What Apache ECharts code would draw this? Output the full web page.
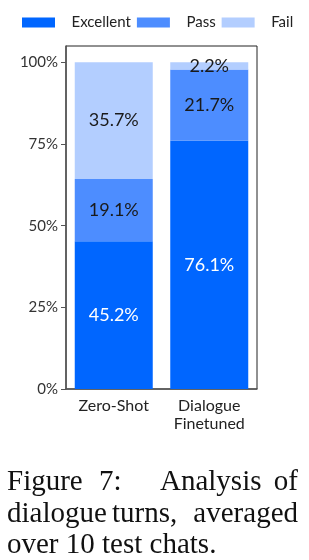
<!DOCTYPE html>
<html>
<head>
<meta charset="utf-8">
<script src="https://cdn.jsdelivr.net/npm/echarts@6/dist/echarts.min.js"></script>
<style>
    html, body { margin: 0; padding: 0; background: #fff; }
    #main { width: 309px; height: 560px; }
</style>
</head>
<body>
<div id="main"></div>
<script>
// ---- data
var categories = ['Zero-Shot', 'Dialogue\nFinetuned'];
var seriesNames = ['Excellent', 'Pass', 'Fail'];
var excellent = [45.2, 76.1];
var pass = [19.1, 21.7];
var fail = [35.7, 2.2];
var yTicks = [0, 25, 50, 75, 100];

var colors = ['#0066ff', '#4d8dff', '#b3ceff'];
var labelColors = ['#ffffff', '#1a1a1a', '#1a1a1a'];
var values = [excellent, pass, fail];

var myChart = echarts.init(document.getElementById('main'));

var series = [];
for (var i = 0; i < seriesNames.length; i++) {
    series.push({
        name: seriesNames[i],
        type: 'bar',
        stack: 'total',
        barWidth: 78,
        data: values[i],
        itemStyle: { color: colors[i] },
        label: {
            show: true,
            position: 'inside',
            formatter: '{c}%',
            color: labelColors[i],
            fontFamily: 'Lato',
            fontSize: 18
        }
    });
}

//---- caption words (justified like the paper)
function word(txt, x, y, align) {
    return {
        type: 'text',
        x: x,
        y: y,
        style: {
            text: txt,
            font: '29px "Liberation Serif"',
            fill: '#111',
            align: align || 'left',
            verticalAlign: 'top'
        }
    };
}

var option = {
    animation: false,
    legend: {
        left: 22,
        top: 14,
        padding: 0,
        itemWidth: 33,
        itemHeight: 10,
        itemGap: 6,
        icon: 'rect',
        data: seriesNames,
        formatter: function(name) {
            return '   ' + name;
        },
        textStyle: {
            fontFamily: 'Lato',
            fontSize: 15,
            lineHeight: 17,
            color: '#222'
        }
    },
    grid: {
        left: 66,
        right: 52,
        top: 46,
        bottom: 171,
        show: true,
        borderColor: '#222',
        borderWidth: 1
    },
    xAxis: {
        type: 'category',
        data: categories,
        axisLine: { lineStyle: { color: '#555', width: 1.5 } },
        axisTick: { alignWithLabel: true, length: 5, lineStyle: { color: '#555' } },
        axisLabel: {
            fontFamily: 'Lato',
            fontSize: 16,
            lineHeight: 18,
            color: '#222',
            margin: 8
        }
    },
    yAxis: {
        type: 'value',
        min: 0,
        max: 105,
        interval: 25,
        splitLine: { show: false },
        axisLine: { show: true, lineStyle: { color: '#555', width: 1.5 } },
        axisTick: { show: true, length: 5, customValues: yTicks, lineStyle: { color: '#555' } },
        axisLabel: {
            customValues: yTicks,
            formatter: '{value}%',
            fontFamily: 'Lato',
            fontSize: 15,
            color: '#333',
            margin: 8
        }
    },
    graphic: [
        word('Figure', 7, 468),
        word('7:', 99, 468),
        word('Analysis', 160, 468),
        word('of', 298, 468, 'right'),
        word('dialogue', 7, 500),
        word('turns,', 112, 500),
        word('averaged', 298, 500, 'right'),
        word('over 10 test chats.', 7, 531)
    ],
    series: series
};

myChart.setOption(option);
</script>
</body>
</html>
